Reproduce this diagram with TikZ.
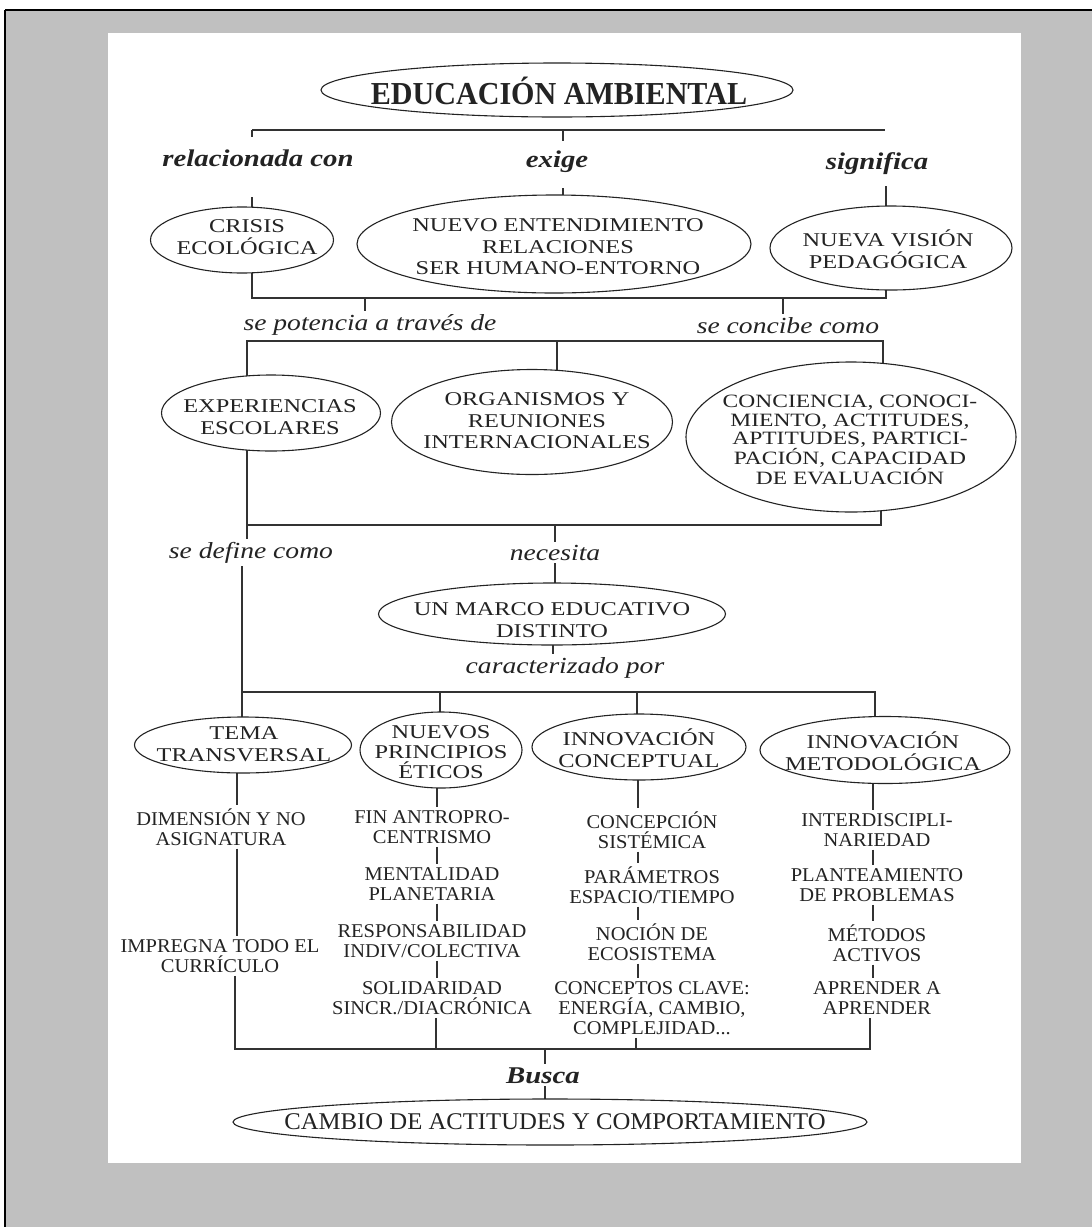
\documentclass[tikz,border=0pt]{standalone}
\usepackage{fontspec}
\setmainfont{Liberation Serif}
\newfontfamily\ellf[FakeStretch=1.25]{Liberation Serif}
\newfontfamily\lstf[FakeStretch=1.05]{Liberation Serif}
\newfontfamily\labf[FakeStretch=1.2]{Liberation Serif}
\newfontfamily\titf[FakeStretch=0.94]{Liberation Serif}
\newfontfamily\botf[FakeStretch=1.03]{Liberation Serif}
\usetikzlibrary{shapes.geometric}
\definecolor{ink}{RGB}{35,35,35}
\definecolor{wire}{RGB}{50,50,50}
\definecolor{pagegray}{RGB}{192,192,192}
\pgfdeclarelayer{paper}
\pgfdeclarelayer{wires}
\pgfsetlayers{paper,wires,main}
\begin{document}
\begin{tikzpicture}[x=1pt,y=-1pt,
  elb/.style={ellipse, draw=ink, fill=white, line width=1.1pt, inner sep=0pt},
  etx/.style={align=center, inner sep=0pt, text=ink, font=\ellf\fontsize{19.5}{21.5}\selectfont},
  lst/.style={align=center, inner sep=3pt, text=ink, font=\lstf\fontsize{19.5}{20}\selectfont},
  lab/.style={inner sep=3pt, text=ink, anchor=base, font=\labf\itshape\fontsize{23}{25}\selectfont},
  blab/.style={inner sep=3pt, text=ink, anchor=base, font=\labf\bfseries\itshape\fontsize{24}{26}\selectfont},
  ln/.style={draw=wire, line width=1.2pt}]
\useasboundingbox (0,0) rectangle (1092,1227);

% ---------- ellipses ----------
\node[elb, minimum width=472, minimum height=54] (edu) at (557,90) {};
\node[elb, minimum width=183, minimum height=66] (crisis) at (242,240) {};
\node[elb, minimum width=394, minimum height=98] (nuevo) at (554,244) {};
\node[elb, minimum width=242, minimum height=84] (vision) at (891,248) {};
\node[elb, minimum width=219, minimum height=76] (exper) at (271,413) {};
\node[elb, minimum width=281, minimum height=105] (organ) at (532,422) {};
\node[elb, minimum width=330, minimum height=150] (conc) at (851,437) {};
\node[elb, minimum width=347, minimum height=62] (marco) at (552,614) {};
\node[elb, minimum width=217, minimum height=56] (tema) at (243,745) {};
\node[elb, minimum width=162, minimum height=76] (nuevos) at (441,750) {};
\node[elb, minimum width=214, minimum height=66] (inconc) at (639,747) {};
\node[elb, minimum width=250, minimum height=67] (inmet) at (885,750) {};
\node[elb, minimum width=634, minimum height=46] (cambio) at (550,1122) {};

% ---------- ellipse texts ----------
\node[etx, font=\titf\bfseries\fontsize{32}{34}\selectfont] (eduT) at (559,91) {EDUCACIÓN AMBIENTAL};
\node[etx] (crisisT) at (247,237) {CRISIS\\ECOLÓGICA};
\node[etx] (nuevoT) at (558,247) {NUEVO ENTENDIMIENTO\\RELACIONES\\SER HUMANO-ENTORNO};
\node[etx] (visionT) at (888,249) {NUEVA VISIÓN\\PEDAGÓGICA};
\node[etx] (experT) at (270,417) {EXPERIENCIAS\\ESCOLARES};
\node[etx] (organT) at (537,421) {ORGANISMOS Y\\REUNIONES\\INTERNACIONALES};
\node[etx, font=\ellf\fontsize{18.8}{18.5}\selectfont] (concT) at (850,440)
  {CONCIENCIA, CONOCI-\\MIENTO, ACTITUDES,\\APTITUDES, PARTICI-\\PACIÓN, CAPACIDAD\\DE EVALUACIÓN};
\node[etx] (marcoT) at (552,620) {UN MARCO EDUCATIVO\\DISTINTO};
\node[etx] (temaT) at (244,744) {TEMA\\TRANSVERSAL};
\node[etx, font=\ellf\fontsize{19.5}{20}\selectfont] (nuevosT) at (441,752) {NUEVOS\\PRINCIPIOS\\ÉTICOS};
\node[etx] (inconcT) at (639,748) {INNOVACIÓN\\CONCEPTUAL};
\node[etx] (inmetT) at (883,751) {INNOVACIÓN\\METODOLÓGICA};
\node[etx, font=\botf\fontsize{24}{26}\selectfont] (cambioT) at (555,1122) {CAMBIO DE ACTITUDES Y COMPORTAMIENTO};

% ---------- labels ----------
\node[blab] (rel) at (258,166) {relacionada con};
\node[blab] (exi) at (557,167) {exige};
\node[blab] (sig) at (877,169) {significa};
\node[lab] (pot) at (370,330) {se potencia a través de};
\node[lab] (conb) at (788,333) {se concibe como};
\node[lab] (sdef) at (251,558) {se define como};
\node[lab] (nec) at (555,560) {necesita};
\node[lab] (car) at (565,673) {caracterizado por};
\node[blab] (bus) at (543,1083) {Busca};

% ---------- lists ----------
\node[lst] (dim) at (221,827) {DIMENSIÓN Y NO\\ASIGNATURA};
\node[lst] (imp) at (220,956) {IMPREGNA TODO EL\\CURRÍCULO};

\node[lst] (fin) at (432,827) {FIN ANTROPRO-\\CENTRISMO};
\node[lst] (men) at (432,884) {MENTALIDAD\\PLANETARIA};
\node[lst] (res) at (432,941) {RESPONSABILIDAD\\INDIV/COLECTIVA};
\node[lst] (sol) at (432,998) {SOLIDARIDAD\\SINCR./DIACRÓNICA};

\node[lst] (cpc) at (652,830) {CONCEPCIÓN\\SISTÉMICA};
\node[lst] (par) at (652,885) {PARÁMETROS\\ESPACIO/TIEMPO};
\node[lst] (noc) at (652,942) {NOCIÓN DE\\ECOSISTEMA};
\node[lst] (cla) at (652,1008) {CONCEPTOS CLAVE:\\ENERGÍA, CAMBIO,\\COMPLEJIDAD...};

\node[lst] (int) at (877,830) {INTERDISCIPLI-\\NARIEDAD};
\node[lst] (pla) at (877,885) {PLANTEAMIENTO\\DE PROBLEMAS};
\node[lst] (met) at (877,943) {MÉTODOS\\ACTIVOS};
\node[lst] (apr) at (877,998) {APRENDER A\\APRENDER};

% ---------- paper ----------
\begin{pgfonlayer}{paper}
  \fill[white] (0,0) rectangle (1092,1227);
  \fill[pagegray] (5,10) rectangle (1092,1227);
  \fill[white] (108,33) rectangle (1021,1163);
  \draw[black, line width=2pt] (5,10) -- (1092,10);
  \draw[black, line width=1.5pt] (5,10) -- (5,1227);
\end{pgfonlayer}

% ---------- connectors ----------
\begin{pgfonlayer}{wires}
  % top bar
  \coordinate (t1) at (252,130); \coordinate (t2) at (885,130);
  \coordinate (t1d) at (252,137); \coordinate (t3) at (563,130); \coordinate (t3d) at (563,141);
  \draw[ln] (t1) -- (t2);
  \draw[ln] (t1) -- (t1d);
  \draw[ln] (t3) -- (t3d);
  \coordinate (k1) at (252,197); \draw[ln] (k1) -- (crisis.center -| k1);
  \coordinate (k2) at (563,188); \draw[ln] (k2) -- (nuevo.center -| k2);
  \coordinate (k3) at (886,186); \draw[ln] (k3) -- (vision.center -| k3);
  % second bar
  \coordinate (u1) at (252,298); \coordinate (u2) at (886,298);
  \draw[ln] (crisis.center -| u1) -- (u1) -- (u2) -- (vision.center -| u2);
  \coordinate (u3) at (365,298); \draw[ln] (u3) -- (pot.north -| u3);
  \coordinate (u4) at (783,298); \draw[ln] (u4) -- (conb.north -| u4);
  % third bar
  \coordinate (v1) at (247,341); \coordinate (v2) at (883,341); \coordinate (v3) at (557,341);
  \draw[ln] (exper.center -| v1) -- (v1) -- (v2) -- (conc.center -| v2);
  \draw[ln] (v3) -- (organ.center -| v3);
  % fourth bar
  \coordinate (w1) at (247,525); \coordinate (w2) at (881,525); \coordinate (w3) at (555,525);
  \draw[ln] (exper.center -| w1) -- (sdef.north -| w1);
  \draw[ln] (w1) -- (w2) -- (conc.center -| w2);
  \draw[ln] (w3) -- (nec.north -| w3);
  \draw[ln] (nec.south -| w3) -- (marco.center -| w3);
  \coordinate (m1) at (553,0);
  \draw[ln] (marco.center -| m1) -- (car.north -| m1);
  % fifth bar
  \coordinate (s1) at (242,0);
  \draw[ln] (sdef.south -| s1) -- (tema.center -| s1);
  \coordinate (x1) at (242,692); \coordinate (x2) at (875,692);
  \coordinate (x3) at (440,692); \coordinate (x4) at (637,692);
  \draw[ln] (x1) -- (x2) -- (inmet.center -| x2);
  \draw[ln] (x3) -- (nuevos.center -| x3);
  \draw[ln] (x4) -- (inconc.center -| x4);
  % column 1
  \coordinate (c1) at (237,0);
  \draw[ln] (tema.center -| c1) -- (dim.north -| c1);
  \draw[ln] (dim.south -| c1) -- (imp.north -| c1);
  % column 2
  \coordinate (c2) at (437,0);
  \draw[ln] (nuevos.center -| c2) -- (fin.north -| c2);
  \draw[ln] (fin.south -| c2) -- (men.north -| c2);
  \draw[ln] (men.south -| c2) -- (res.north -| c2);
  \draw[ln] (res.south -| c2) -- (sol.north -| c2);
  % column 3
  \coordinate (c3) at (638,0);
  \draw[ln] (inconc.center -| c3) -- (cpc.north -| c3);
  \draw[ln] (cpc.south -| c3) -- (par.north -| c3);
  \draw[ln] (par.south -| c3) -- (noc.north -| c3);
  \draw[ln] (noc.south -| c3) -- (cla.north -| c3);
  % column 4
  \coordinate (c4) at (873,0);
  \draw[ln] (inmet.center -| c4) -- (int.north -| c4);
  \draw[ln] (int.south -| c4) -- (pla.north -| c4);
  \draw[ln] (pla.south -| c4) -- (met.north -| c4);
  \draw[ln] (met.south -| c4) -- (apr.north -| c4);
  % bottom bar
  \coordinate (y1) at (235,1049); \coordinate (y2) at (870,1049);
  \coordinate (y3) at (436,1049); \coordinate (y4) at (636,1049);
  \draw[ln] (imp.south -| y1) -- (y1) -- (y2) -- (apr.south -| y2);
  \draw[ln] (sol.south -| y3) -- (y3);
  \draw[ln] (cla.south -| y4) -- (y4);
  \coordinate (z1) at (545,1049);
  \draw[ln] (z1) -- (bus.north -| z1);
  \draw[ln] (bus.south -| z1) -- (cambio.center -| z1);
\end{pgfonlayer}
\end{tikzpicture}
\end{document}
